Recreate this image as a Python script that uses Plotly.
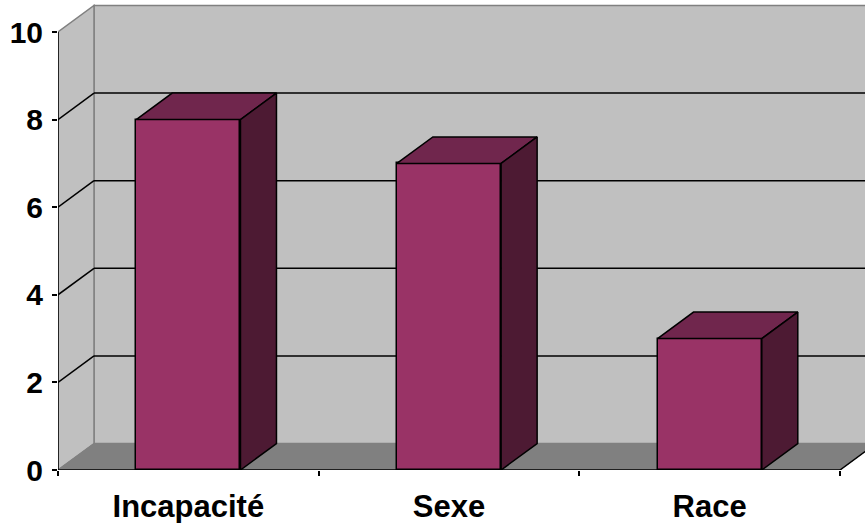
import plotly.graph_objects as go

# ---- data ----
categories = ["Incapacité", "Sexe", "Race"]
values = [8, 7, 3]
y_ticks = [0, 2, 4, 6, 8, 10]

# ---- style ----
FRONT = "#993366"
TOP = "#70264D"
SIDE = "#4D1A33"
WALL = "#C0C0C0"
FLOOR = "#808080"
EDGE = "#808080"
FONT = "Liberation Sans, Arial, sans-serif"

W, H = 865, 523
ML, MB = 58, 53
PX_X = 782 / 3.0      # pixels per category
PX_Y = 43.8           # pixels per value unit
DX = 36 / PX_X        # depth offset in x units
DY = 26.5 / PX_Y      # depth offset in y units
BW = 0.40             # bar width (category units)

n = len(categories)
xs = list(range(n))
x0, x1 = -0.5, n - 0.5
xmax = x0 + (W - ML) / PX_X
ymax_range = (H - MB) / PX_Y
vmax = y_ticks[-1]

fig = go.Figure()

# front faces
fig.add_trace(go.Bar(
    x=xs, y=values, width=BW,
    marker=dict(color=FRONT, line=dict(color="black", width=1.5)),
    hoverinfo="skip", showlegend=False,
))
# top and side faces
for xi, v in zip(xs, values):
    l, r = xi - BW / 2, xi + BW / 2
    fig.add_trace(go.Scatter(
        x=[l, r, r + DX, l + DX, l], y=[v, v, v + DY, v + DY, v],
        fill="toself", fillcolor=TOP, mode="lines",
        line=dict(color="black", width=1.5), hoverinfo="skip", showlegend=False,
    ))
    fig.add_trace(go.Scatter(
        x=[r, r + DX, r + DX, r, r], y=[0, DY, v + DY, v, 0],
        fill="toself", fillcolor=SIDE, mode="lines",
        line=dict(color="black", width=1.5), hoverinfo="skip", showlegend=False,
    ))

shapes = []


def path(pts):
    return "M " + " L ".join(f"{px},{py}" for px, py in pts) + " Z"


# back wall
shapes.append(dict(type="rect", xref="x", yref="y", x0=x0 + DX, x1=xmax + 1,
                   y0=DY, y1=vmax + DY, fillcolor=WALL,
                   line=dict(color=EDGE, width=1.5), layer="below"))
# left wall
shapes.append(dict(type="path", xref="x", yref="y",
                   path=path([(x0, 0), (x0 + DX, DY), (x0 + DX, vmax + DY), (x0, vmax)]),
                   fillcolor=WALL, line=dict(color=EDGE, width=1.5), layer="below"))
# floor
shapes.append(dict(type="path", xref="x", yref="y",
                   path=path([(x0, 0), (x1, 0), (x1 + DX, DY), (x0 + DX, DY)]),
                   fillcolor=FLOOR, line=dict(color=EDGE, width=1), layer="below"))
# gridlines
for v in y_ticks[1:-1]:
    shapes.append(dict(type="line", xref="x", yref="y", x0=x0, y0=v, x1=x0 + DX, y1=v + DY,
                       line=dict(color="black", width=1.5), layer="below"))
    shapes.append(dict(type="line", xref="x", yref="y", x0=x0 + DX, y0=v + DY, x1=xmax + 1, y1=v + DY,
                       line=dict(color="black", width=1.5), layer="below"))
# front axes
shapes.append(dict(type="line", xref="x", yref="y", x0=x0, y0=0, x1=x0, y1=vmax,
                   line=dict(color="black", width=1.5)))
shapes.append(dict(type="line", xref="x", yref="y", x0=x0, y0=0, x1=x1, y1=0,
                   line=dict(color="black", width=1.5)))
shapes.append(dict(type="line", xref="x", yref="y", x0=x1, y0=0, x1=x1 + DX, y1=DY,
                   line=dict(color="black", width=1.5)))

fig.update_layout(
    width=W, height=H,
    margin=dict(l=ML, r=0, t=0, b=MB, pad=0),
    paper_bgcolor="white", plot_bgcolor="white",
    showlegend=False,
    shapes=shapes,
    bargap=0,
    xaxis=dict(
        range=[x0, xmax], tickvals=xs, ticktext=categories,
        ticks="", showgrid=False, zeroline=False, showline=False,
        tickfont=dict(family=FONT, size=31, color="black", weight="bold"),
        ticklabelstandoff=15,
        minor=dict(tickvals=[x0 + i for i in range(n + 1)], ticks="outside",
                   ticklen=5, tickwidth=1.5, tickcolor="black", showgrid=False),
        automargin=False, fixedrange=True,
    ),
    yaxis=dict(
        range=[0, ymax_range], tickvals=y_ticks,
        ticks="outside", ticklen=5, tickwidth=1.5, tickcolor="black",
        showgrid=False, zeroline=False, showline=False,
        tickfont=dict(family=FONT, size=30, color="black", weight="bold"),
        ticklabelstandoff=3,
        automargin=False, fixedrange=True,
    ),
)

fig.write_html("out.html")
